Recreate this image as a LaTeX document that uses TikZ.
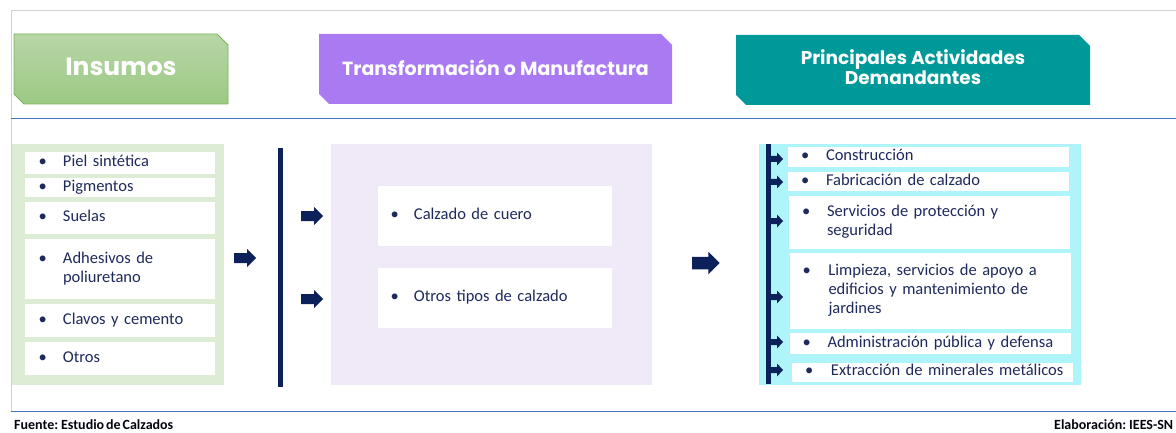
\documentclass[tikz,border=0pt]{standalone}
\usepackage{fontspec}
\setmainfont{Carlito}[WordSpace={0.6,0,0}]
\newfontfamily\headfont{Poppins}
\definecolor{navy}{RGB}{12,32,90}
\definecolor{txt}{RGB}{31,42,92}
\definecolor{gray1}{RGB}{210,210,210}
\definecolor{blueln}{RGB}{68,114,196}
\definecolor{pgreen}{RGB}{221,236,212}
\definecolor{plav}{RGB}{240,234,248}
\definecolor{pcyan}{RGB}{175,244,248}
\definecolor{hgreenT}{RGB}{183,214,166}
\definecolor{hgreenB}{RGB}{156,201,132}
\definecolor{hgreenD}{RGB}{122,181,92}
\definecolor{hpurple}{RGB}{169,122,242}
\definecolor{hteal}{RGB}{0,153,153}
\newcommand\bitem[2]{\makebox[#1][l]{\textbullet}\begin{tabular}[t]{@{}l@{}}#2\end{tabular}}
\tikzset{
  htext/.style={text=white, align=center, inner sep=0pt},
  ibox/.style={fill=white, draw=none, inner ysep=0pt, align=left, text=txt,
    font=\fontsize{16.5}{19}\selectfont},
  bar/.style={fill=navy, draw=none},
  barrow/.pic={\fill[navy] (0,-5) -- (13,-5) -- (13,-9) -- (22,0) -- (13,9) -- (13,5) -- (0,5) -- cycle;},
  sarrow/.pic={\fill[navy] (0,-3) -- (6,-3) -- (6,-6.5) -- (12,0) -- (6,6.5) -- (6,3) -- (0,3) -- cycle;},
  foot/.style={anchor=base west, inner sep=0pt, text=black!85!navy, font=\bfseries\fontsize{14}{16}\selectfont},
}
\begin{document}
\begin{tikzpicture}[x=1pt,y=-1pt]
\useasboundingbox (0,0) rectangle (1176,433);
% frame
\draw[gray1, line width=1pt] (11,411) -- (11,11) -- (1176,11);
\draw[blueln, line width=1.3pt] (11,118.5) -- (1176,118.5);
\draw[blueln, line width=1.3pt] (11,411.5) -- (1176,411.5);
% headers
\shade[top color=hgreenT, bottom color=hgreenB, draw=hgreenD, line width=0.8pt]
  (14,34) -- (217,34) -- (228,45) -- (228,104) -- (24,104) -- (14,94) -- cycle;
\fill[hpurple] (319,34) -- (661,34) -- (672,45) -- (672,104) -- (329,104) -- (319,94) -- cycle;
\fill[hteal] (736,35) -- (1079,35) -- (1090,46) -- (1090,105) -- (746,105) -- (736,95) -- cycle;
\node[htext, font=\headfont\bfseries\fontsize{25}{28}\selectfont] (h1) at (121,67) {Insumos};
\node[htext, font=\headfont\bfseries\fontsize{19}{22}\selectfont] (h2) at (495.5,68) {Transformación o Manufactura};
\node[htext, font=\headfont\bfseries\fontsize{18.5}{20.5}\selectfont] (h3) at (913,67) {Principales Actividades\\Demandantes};
% panels
\fill[pgreen] (12,144) rectangle (224,385);
\fill[plav] (331,144) rectangle (652,385);
\fill[pcyan] (759,144) rectangle (1081,385);
% left items
\begin{scope}[every node/.style={ibox, inner xsep=13.5pt, text width=163pt}]
\node[minimum height=22pt] (l1) at (120,163) {\bitem{24.5pt}{Piel sintética}};
\node[minimum height=19pt] (l2) at (120,187.5) {\bitem{24.5pt}{Pigmentos}};
\node[minimum height=32pt] (l3) at (120,218) {\bitem{24.5pt}{Suelas}};
\node[minimum height=60pt] (l4) at (120,269) {\bitem{24.5pt}{Adhesivos de\\poliuretano}};
\node[minimum height=33pt] (l5) at (120,320.5) {\bitem{24.5pt}{Clavos y cemento}};
\node[minimum height=33pt] (l6) at (120,358.5) {\bitem{24.5pt}{Otros}};
\end{scope}
% middle items
\begin{scope}[every node/.style={ibox, inner xsep=12.5pt, text width=209pt}]
\node[minimum height=60pt] (m1) at (495,216) {\bitem{23.5pt}{Calzado de cuero}};
\node[minimum height=60pt] (m2) at (495,298) {\bitem{23.5pt}{Otros tipos de calzado}};
\end{scope}
% right items
\begin{scope}[every node/.style={ibox, inner xsep=13pt, text width=255pt}]
\node[minimum height=20pt] (r1) at (928.5,157) {\bitem{25pt}{Construcción}};
\node[minimum height=19pt] (r2) at (928.5,181.5) {\bitem{25pt}{Fabricación de calzado}};
\node[minimum height=53pt] (r3) at (929.5,222.5) {\bitem{25pt}{Servicios de protección y\\seguridad}};
\node[minimum height=76pt] (r4) at (930,291) {\bitem{26pt}{Limpieza, servicios de apoyo a\\edificios y mantenimiento de\\jardines}};
\node[minimum height=21pt] (r5) at (930,343.5) {\bitem{25pt}{Administración pública y defensa}};
\node[minimum height=18pt] (r6) at (932.5,372) {\bitem{26pt}{Extracción de minerales metálicos}};
\end{scope}
% bars
\fill[bar] (278,148) rectangle (283,387);
\fill[bar] (766,144) rectangle (771,384);
% arrows
\pic at (234,258) {barrow};
\pic at (301,216) {barrow};
\pic at (301,299) {barrow};
\pic[scale=1.25] at (692,263) {barrow};
\foreach \yy in {159,182,221,297,342,370} { \pic at (771,\yy) {sarrow}; }
% footer
\node[foot] (f1) at (14,429.5) {Fuente: Estudio de Calzados};
\node[foot] (f2) at (1054,429.5) {Elaboración: IEES-SN};
\end{tikzpicture}
\end{document}
